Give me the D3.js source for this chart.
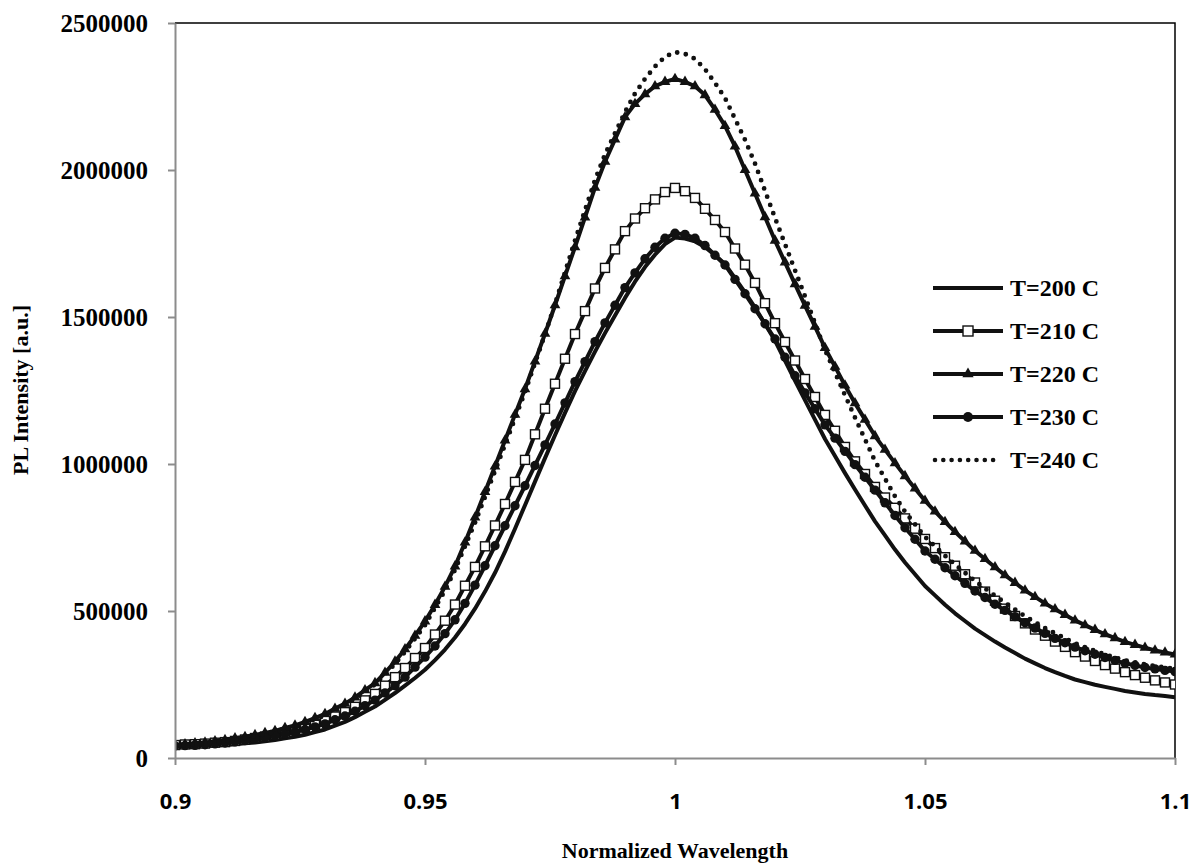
<!DOCTYPE html>
<html><head><meta charset="utf-8">
<script src="https://cdn.jsdelivr.net/npm/d3@7"></script>
<style>body{margin:0;background:#fff;} svg{display:block;}</style>
</head><body>
<svg id="chart" width="1196" height="867"></svg>
<script>
const wavelength = [0.900,0.902,0.904,0.906,0.908,0.910,0.912,0.914,0.916,0.918,0.920,0.922,0.924,0.926,0.928,0.930,0.932,0.934,0.936,0.938,0.940,0.942,0.944,0.946,0.948,0.950,0.952,0.954,0.956,0.958,0.960,0.962,0.964,0.966,0.968,0.970,0.972,0.974,0.976,0.978,0.980,0.982,0.984,0.986,0.988,0.990,0.992,0.994,0.996,0.998,1.000,1.002,1.004,1.006,1.008,1.010,1.012,1.014,1.016,1.018,1.020,1.022,1.024,1.026,1.028,1.030,1.032,1.034,1.036,1.038,1.040,1.042,1.044,1.046,1.048,1.050,1.052,1.054,1.056,1.058,1.060,1.062,1.064,1.066,1.068,1.070,1.072,1.074,1.076,1.078,1.080,1.082,1.084,1.086,1.088,1.090,1.092,1.094,1.096,1.098,1.100];

const seriesNames = ["T=200 C","T=210 C","T=220 C","T=230 C","T=240 C"];

const t200 = [37000,39000,40000,42000,43000,44000,47000,50000,53000,57000,61000,67000,72000,79000,88000,97000,110000,123000,139000,157000,175000,198000,221000,246000,272000,300000,333000,369000,410000,456000,508000,566000,630000,702000,780000,860000,940000,1020000,1098000,1174000,1248000,1316000,1382000,1445000,1505000,1565000,1620000,1670000,1712000,1748000,1770000,1767000,1757000,1738000,1710000,1680000,1632000,1584000,1532000,1476000,1420000,1352000,1284000,1217000,1151000,1085000,1027000,969000,913000,859000,805000,757000,709000,665000,625000,585000,553000,521000,492000,466000,440000,418000,396000,376000,357000,338000,322000,306000,292000,279000,267000,258000,249000,242000,235000,228000,223000,218000,214000,211000,207000];

const t210 = [44000,46000,47000,49000,52000,54000,58000,63000,68000,73000,78000,86000,95000,104000,115000,126000,141000,156000,174000,196000,218000,246000,275000,306000,340000,374000,420000,467000,522000,586000,650000,720000,791000,864000,939000,1014000,1101000,1188000,1273000,1358000,1442000,1520000,1597000,1667000,1730000,1792000,1835000,1870000,1900000,1925000,1939000,1928000,1905000,1868000,1830000,1789000,1733000,1678000,1616000,1547000,1479000,1415000,1352000,1289000,1228000,1167000,1113000,1058000,1009000,966000,922000,886000,851000,815000,780000,745000,714000,683000,654000,625000,597000,566000,535000,508000,483000,458000,437000,416000,396000,378000,360000,345000,330000,316000,304000,292000,282000,273000,264000,257000,250000];

const t220 = [44000,47000,50000,53000,57000,61000,67000,72000,78000,85000,92000,102000,111000,123000,136000,150000,168000,185000,206000,231000,255000,290000,328000,370000,416000,465000,521000,583000,652000,733000,818000,905000,992000,1080000,1168000,1255000,1349000,1443000,1540000,1639000,1738000,1839000,1940000,2028000,2104000,2180000,2225000,2258000,2285000,2300000,2310000,2300000,2285000,2255000,2205000,2150000,2080000,2000000,1920000,1840000,1760000,1686000,1612000,1539000,1467000,1395000,1331000,1267000,1207000,1151000,1095000,1049000,1003000,959000,917000,875000,839000,803000,769000,737000,705000,677000,649000,622000,596000,570000,548000,526000,506000,487000,468000,452000,436000,421000,408000,395000,385000,375000,366000,359000,352000];

const t230 = [41000,42000,43000,45000,48000,51000,55000,59000,64000,69000,75000,82000,89000,97000,106000,116000,130000,143000,159000,178000,197000,221000,246000,275000,309000,343000,381000,423000,470000,526000,588000,654000,722000,790000,858000,926000,995000,1065000,1136000,1208000,1280000,1348000,1416000,1480000,1540000,1600000,1650000,1698000,1737000,1768000,1785000,1781000,1768000,1743000,1710000,1677000,1628000,1579000,1528000,1477000,1425000,1363000,1300000,1242000,1188000,1133000,1088000,1043000,998000,955000,911000,868000,825000,783000,744000,704000,676000,647000,620000,594000,568000,546000,523000,502000,481000,460000,442000,424000,407000,392000,377000,365000,353000,342000,332000,322000,315000,308000,303000,298000,294000];

const t240 = [42000,44000,47000,50000,53000,57000,62000,67000,74000,81000,88000,98000,107000,119000,132000,145000,163000,181000,202000,226000,250000,285000,320000,361000,406000,452000,511000,570000,640000,720000,800000,888000,976000,1065000,1155000,1245000,1343000,1441000,1544000,1652000,1760000,1863000,1966000,2053000,2125000,2197000,2260000,2310000,2352000,2385000,2401000,2395000,2378000,2343000,2296000,2245000,2174000,2103000,2022000,1929000,1837000,1748000,1659000,1570000,1479000,1388000,1311000,1234000,1158000,1084000,1010000,950000,890000,838000,795000,752000,720000,688000,658000,630000,602000,577000,552000,528000,505000,482000,462000,442000,424000,407000,390000,377000,364000,352000,342000,332000,325000,318000,313000,308000,303000];

const xTickValues = [0.9, 0.95, 1, 1.05, 1.1];
const xTickLabels = ["0.9", "0.95", "1", "1.05", "1.1"];
const yTickValues = [0, 500000, 1000000, 1500000, 2000000, 2500000];
const yTickLabels = ["0", "500000", "1000000", "1500000", "2000000", "2500000"];
const xTitle = "Normalized Wavelength";
const yTitle = "PL Intensity [a.u.]";

const seriesData = [t200, t210, t220, t230, t240];
const markerTypes = ["none", "square", "triangle", "circle", "dotted"];

const svg = d3.select("#chart");
const L = 175, R = 1175, T = 23, B = 758;
const x = d3.scaleLinear().domain([0.9, 1.1]).range([L, R]);
const y = d3.scaleLinear().domain([0, 2500000]).range([B, T]);
const axisGray = "#8c8c8c";

svg.append("rect").attr("width", 1196).attr("height", 867).attr("fill", "#fff");

svg.append("path")
  .attr("d", `M${L},${T}H${R}V${B}`)
  .attr("fill", "none").attr("stroke", "#000").attr("stroke-width", 1.5);

svg.append("clipPath").attr("id", "clip")
  .append("rect").attr("x", L).attr("y", T - 10).attr("width", R - L).attr("height", B - T + 10);

const gSeries = svg.append("g").attr("clip-path", "url(#clip)");
const line = d3.line().x((d, i) => x(wavelength[i])).y(d => y(d));

seriesData.forEach((vals, si) => {
  const type = markerTypes[si];
  const g = gSeries.append("g");
  if (type === "dotted") {
    g.append("path").datum(vals).attr("d", line)
      .attr("fill", "none").attr("stroke", "#111")
      .attr("stroke-width", 4.8).attr("stroke-linecap", "round")
      .attr("stroke-dasharray", "0 8.8");
  } else {
    g.append("path").datum(vals).attr("d", line)
      .attr("fill", "none").attr("stroke", "#111")
      .attr("stroke-width", 4).attr("stroke-linejoin", "round");
  }
  const pts = vals.map((v, i) => [x(wavelength[i]), y(v)]);
  if (type === "square") {
    g.selectAll("rect.m").data(pts).join("rect").attr("class", "m")
      .attr("x", d => d[0] - 4.5).attr("y", d => d[1] - 4.5)
      .attr("width", 9).attr("height", 9)
      .attr("fill", "#fff").attr("stroke", "#111").attr("stroke-width", 1.4);
  } else if (type === "triangle") {
    g.selectAll("path.m").data(pts).join("path").attr("class", "m")
      .attr("d", d3.symbol().type(d3.symbolTriangle).size(50))
      .attr("transform", d => `translate(${d[0]},${d[1]})`)
      .attr("fill", "#111");
  } else if (type === "circle") {
    g.selectAll("circle.m").data(pts).join("circle").attr("class", "m")
      .attr("cx", d => d[0]).attr("cy", d => d[1]).attr("r", 4.7)
      .attr("fill", "#111");
  }
});

const xAxis = d3.axisBottom(x).tickValues(xTickValues)
  .tickFormat((d, i) => xTickLabels[i]).tickSize(7).tickSizeOuter(0).tickPadding(28);
const gx = svg.append("g").attr("transform", `translate(0,${B})`).call(xAxis);
gx.select(".domain").attr("stroke", axisGray).attr("stroke-width", 2);
gx.selectAll(".tick line").attr("stroke", axisGray).attr("stroke-width", 2);
gx.selectAll(".tick text").attr("fill", "#000")
  .style("font-family", "'Open Sans', 'Liberation Sans', sans-serif")
  .style("font-weight", "700").style("font-size", "22px");

const yAxis = d3.axisLeft(y).tickValues(yTickValues)
  .tickFormat((d, i) => yTickLabels[i]).tickSize(7).tickSizeOuter(0).tickPadding(20);
const gy = svg.append("g").attr("transform", `translate(${L},0)`).call(yAxis);
gy.select(".domain").attr("stroke", axisGray).attr("stroke-width", 2);
gy.selectAll(".tick line").attr("stroke", axisGray).attr("stroke-width", 2);
gy.selectAll(".tick text").attr("fill", "#000")
  .style("font-family", "'Liberation Serif', 'Times New Roman', serif")
  .style("font-weight", "700").style("font-size", "25px");

svg.append("text").attr("x", 675).attr("y", 858).attr("text-anchor", "middle")
  .style("font-family", "'Liberation Serif', serif").style("font-weight", "700")
  .style("font-size", "22px").text(xTitle);
svg.append("text").attr("transform", `translate(28,390) rotate(-90)`).attr("text-anchor", "middle")
  .style("font-family", "'Liberation Serif', serif").style("font-weight", "700")
  .style("font-size", "22px").text(yTitle);

const legY = [288, 331, 374, 417, 460];
const lg = svg.append("g");
seriesNames.forEach((name, i) => {
  const yy = legY[i];
  const type = markerTypes[i];
  const g = lg.append("g");
  if (type === "dotted") {
    g.append("line").attr("x1", 935).attr("x2", 1001).attr("y1", yy).attr("y2", yy)
      .attr("stroke", "#111").attr("stroke-width", 4.6).attr("stroke-linecap", "round")
      .attr("stroke-dasharray", "0 8.3");
  } else {
    g.append("line").attr("x1", 933).attr("x2", 1003).attr("y1", yy).attr("y2", yy)
      .attr("stroke", "#111").attr("stroke-width", 4);
  }
  if (type === "square") {
    g.append("rect").attr("x", 968 - 5).attr("y", yy - 5).attr("width", 10).attr("height", 10)
      .attr("fill", "#fff").attr("stroke", "#111").attr("stroke-width", 1.4);
  } else if (type === "triangle") {
    g.append("path").attr("d", d3.symbol().type(d3.symbolTriangle).size(55)())
      .attr("transform", `translate(968,${yy})`).attr("fill", "#111");
  } else if (type === "circle") {
    g.append("circle").attr("cx", 968).attr("cy", yy).attr("r", 5).attr("fill", "#111");
  }
  g.append("text").attr("x", 1010).attr("y", yy).attr("dy", "0.35em")
    .style("font-family", "'Liberation Serif', serif").style("font-weight", "700")
    .style("font-size", "24px").text(name);
});
</script>
</body></html>
